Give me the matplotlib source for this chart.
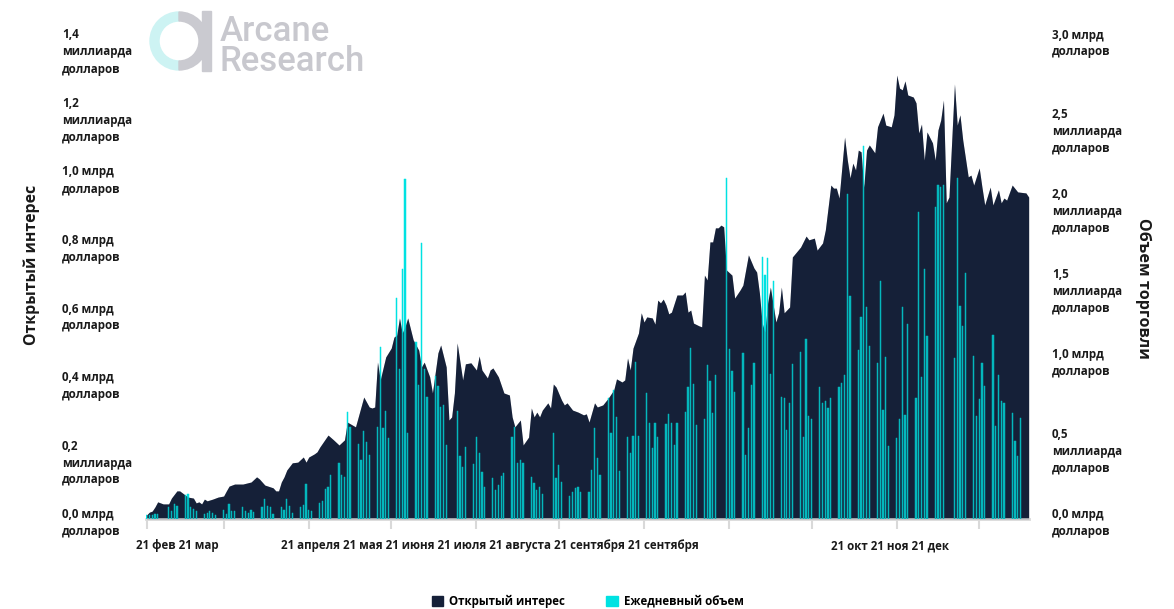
import matplotlib.pyplot as plt
import matplotlib.patches as mpatches
import matplotlib.transforms as mtransforms
import pandas as pd

plt.rcParams['font.family'] = ['Open Sans', 'DejaVu Sans']

# open interest, billions USD (2021)
oi_dates = [
    "02-01", "02-02", "02-03", "02-04", "02-05", "02-07", "02-09", "02-10", "02-12", "02-13",
    "02-14", "02-16", "02-18", "02-19", "02-20", "02-21", "02-22", "02-23", "02-25", "02-27",
    "03-01", "03-02", "03-03", "03-05", "03-08", "03-11", "03-13", "03-14", "03-16", "03-19",
    "03-20", "03-21", "03-22", "03-23", "03-24", "03-26", "03-28", "03-30", "03-31",
    "04-01", "04-03", "04-04", "04-05", "04-08", "04-10", "04-12", "04-14", "04-15", "04-18",
    "04-19", "04-21", "04-23", "04-24", "04-25", "04-26", "04-27", "04-29",
    "05-01", "05-02", "05-03", "05-04", "05-05", "05-06", "05-07", "05-09", "05-11", "05-12",
    "05-13", "05-15", "05-16", "05-18", "05-19", "05-21", "05-22", "05-23", "05-24", "05-25",
    "05-27", "05-28", "05-30",
    "06-01", "06-02", "06-03", "06-05", "06-06", "06-07", "06-09", "06-11", "06-13", "06-14",
    "06-15", "06-17", "06-18", "06-20", "06-21", "06-22", "06-23", "06-24", "06-25", "06-27",
    "06-28", "06-29", "06-30",
    "07-02", "07-03", "07-04", "07-06", "07-08", "07-10", "07-11", "07-12", "07-14", "07-15",
    "07-17", "07-19", "07-21", "07-22", "07-24", "07-25", "07-26", "07-27", "07-28", "07-30",
    "07-31",
    "08-01", "08-02", "08-04", "08-05", "08-06", "08-07", "08-08", "08-09", "08-10", "08-11",
    "08-13", "08-15", "08-16", "08-17", "08-18", "08-19", "08-21", "08-22", "08-23", "08-24",
    "08-25", "08-26", "08-27", "08-28", "08-29", "08-30", "08-31",
    "09-02", "09-03", "09-05", "09-06", "09-08", "09-10", "09-11", "09-12", "09-13", "09-14",
    "09-15", "09-16", "09-18", "09-19", "09-20", "09-21", "09-23", "09-24", "09-27", "09-29",
    "09-30",
    "10-02", "10-03", "10-05", "10-06", "10-08", "10-09", "10-10", "10-11", "10-13", "10-14",
    "10-15", "10-16", "10-17", "10-18", "10-19", "10-20", "10-21", "10-22", "10-24", "10-25",
    "10-27", "10-28", "10-30", "10-31",
    "11-01", "11-02", "11-03", "11-04", "11-05", "11-07", "11-08", "11-09", "11-10", "11-11",
    "11-12", "11-14", "11-15", "11-16", "11-17", "11-18", "11-19", "11-20", "11-22", "11-23",
    "11-24", "11-25", "11-27", "11-28", "11-29",
    "12-01", "12-02", "12-03", "12-05", "12-06", "12-08", "12-09", "12-10", "12-11", "12-13",
    "12-15", "12-18", "12-19",
]
oi_values = [
    0.012, 0.020, 0.023, 0.035, 0.050, 0.044, 0.044, 0.061, 0.082, 0.082,
    0.076, 0.064, 0.061, 0.047, 0.050, 0.044, 0.058, 0.053, 0.058, 0.064,
    0.067, 0.082, 0.096, 0.102, 0.102, 0.108, 0.123, 0.117, 0.099, 0.091,
    0.082, 0.082, 0.108, 0.123, 0.143, 0.164, 0.166, 0.181, 0.166,
    0.181, 0.190, 0.196, 0.210, 0.245, 0.231, 0.216, 0.231, 0.283, 0.269,
    0.298, 0.356, 0.327, 0.324, 0.327, 0.458, 0.406, 0.473,
    0.499, 0.531, 0.537, 0.587, 0.543, 0.561, 0.587, 0.523, 0.493, 0.444,
    0.458, 0.415, 0.368, 0.485, 0.508, 0.444, 0.289, 0.298, 0.368, 0.514,
    0.406, 0.453, 0.456,
    0.435, 0.476, 0.435, 0.412, 0.435, 0.441, 0.415, 0.368, 0.362, 0.298,
    0.269, 0.289, 0.216, 0.239, 0.324, 0.298, 0.312, 0.298, 0.318, 0.339,
    0.324, 0.394, 0.385,
    0.347, 0.333, 0.339, 0.318, 0.312, 0.304, 0.307, 0.283, 0.339, 0.327,
    0.333, 0.353, 0.377, 0.409, 0.400, 0.406, 0.470, 0.435, 0.499, 0.543,
    0.602,
    0.575, 0.590, 0.587, 0.569, 0.639, 0.631, 0.642, 0.625, 0.599, 0.604,
    0.654, 0.654, 0.663, 0.604, 0.610, 0.572, 0.564, 0.561, 0.712, 0.698,
    0.809, 0.809, 0.850, 0.850, 0.858, 0.853, 0.727,
    0.712, 0.645, 0.669, 0.683, 0.771, 0.733, 0.721, 0.660, 0.572, 0.546,
    0.631, 0.677, 0.575, 0.602, 0.677, 0.602, 0.619, 0.765, 0.794, 0.826,
    0.815,
    0.820, 0.785, 0.806, 0.844, 0.975, 0.966, 0.966, 0.937, 1.115, 1.048,
    0.996, 1.039, 1.019, 1.077, 1.072, 0.969, 1.077, 1.092, 1.069, 1.145,
    1.185, 1.150, 1.145, 1.180,
    1.296, 1.258, 1.253, 1.279, 1.238, 1.232, 1.215, 1.127, 1.153, 1.048,
    1.130, 1.098, 1.048, 1.136, 1.165, 1.223, 0.923, 0.940, 1.270, 1.150,
    1.180, 1.107, 0.999, 1.004, 0.975,
    1.025, 0.969, 0.917, 0.969, 0.917, 0.961, 0.923, 0.937, 0.931, 0.975,
    0.955, 0.952, 0.940,
]

# daily volume, billions USD; one row per week (Mon..Fri), weeks starting 2021-02-01
volume_weeks = [
    [0.025, 0.025, 0.025, 0.031, 0.031], [0.0, 0.075, 0.050, 0.094, 0.081],
    [0.150, 0.156, 0.075, 0.063, 0.050], [0.031, 0.038, 0.050, 0.038, 0.025],
    [0.056, 0.031, 0.094, 0.050, 0.050], [0.075, 0.050, 0.038, 0.056, 0.044],
    [0.075, 0.125, 0.081, 0.075, 0.031], [0.075, 0.056, 0.125, 0.081, 0.038],
    [0.075, 0.088, 0.219, 0.056, 0.050], [0.100, 0.113, 0.188, 0.200, 0.275],
    [0.350, 0.275, 0.263, 0.670, 0.576], [0.469, 0.369, 0.551, 0.482, 0.400],
    [0.576, 1.076, 0.569, 0.676, 0.507], [1.383, 0.939, 1.564, 2.127, 0.538],
    [1.107, 0.838, 1.727, 0.939, 0.763], [0.895, 0.832, 0.701, 0.713, 0.463],
    [0.0, 0.676, 0.394, 0.325, 0.451], [0.344, 0.513, 0.413, 0.294, 0.200],
    [0.257, 0.181, 0.213, 0.269, 0.288], [0.513, 0.576, 0.350, 0.369, 0.350],
    [0.263, 0.225, 0.181, 0.200, 0.156], [0.0, 0.538, 0.257, 0.338, 0.232],
    [0.144, 0.169, 0.194, 0.200, 0.169], [0.169, 0.307, 0.569, 0.382, 0.275],
    [0.757, 0.538, 0.807, 0.638, 0.300], [0.513, 0.413, 0.519, 0.982, 0.519],
    [0.788, 0.601, 0.444, 0.601, 0.513], [0.594, 0.657, 0.601, 0.463, 0.601],
    [0.670, 0.826, 1.070, 0.845, 0.588], [0.626, 0.964, 0.863, 0.663, 0.901],
    [0.0, 2.134, 1.064, 0.926, 0.795], [1.039, 0.400, 0.569, 0.838, 0.976],
    [1.639, 1.527, 1.633, 0.907, 1.489], [0.763, 0.757, 0.557, 0.726, 0.970],
    [1.045, 0.513, 1.126, 0.644, 0.626], [0.826, 0.726, 0.738, 0.695, 0.757],
    [0.826, 0.851, 0.901, 2.034, 1.395], [1.057, 1.264, 2.334, 1.326, 1.082],
    [0.976, 1.489, 0.682, 1.014, 0.457], [0.507, 0.626, 1.326, 0.651, 1.220],
    [0.757, 1.921, 0.888, 1.564, 1.145], [1.952, 2.090, 2.077, 2.090, 0.0],
    [1.007, 2.134, 1.333, 1.208, 1.539], [1.020, 0.644, 0.751, 0.976, 0.832],
    [1.151, 0.582, 0.901, 0.738, 0.726], [0.663, 0.488, 0.394, 0.632, 0.0],
]

left_ticks = [0.0, 0.2, 0.4, 0.6, 0.8, 1.0, 1.2, 1.4]
left_labels = ["0,0 млрд\nдолларов", "0,2\nмиллиарда\nдолларов", "0,4 млрд\nдолларов",
               "0,6 млрд\nдолларов", "0,8 млрд\nдолларов", "1,0 млрд\nдолларов",
               "1,2\nмиллиарда\nдолларов", "1,4\nмиллиарда\nдолларов"]
right_ticks = [0.0, 0.5, 1.0, 1.5, 2.0, 2.5, 3.0]
right_labels = ["0,0 млрд\nдолларов", "0,5\nмиллиарда\nдолларов", "1,0 млрд\nдолларов",
                "1,5\nмиллиарда\nдолларов", "2,0\nмиллиарда\nдолларов",
                "2,5\nмиллиарда\nдолларов", "3,0 млрд\nдолларов"]
x_label_groups = ["21 фев 21 мар",
                  "21 апреля 21 мая 21 июня 21 июля 21 августа 21 сентября 21 сентября",
                  "21 окт 21 ноя 21 дек"]

NAVY = '#152038'
CYAN = '#00e2e2'
TEXT = '#1a1a1a'

oi_x = pd.to_datetime(["2021-" + d for d in oi_dates])
week_starts = pd.date_range("2021-02-01", periods=len(volume_weeks), freq="7D")
vol_x, vol_y = [], []
for ws, row in zip(week_starts, volume_weeks):
    for i, v in enumerate(row):
        if v > 0:
            vol_x.append(ws + pd.Timedelta(days=i))
            vol_y.append(v)

fig = plt.figure(figsize=(11.74, 6.09), dpi=100)
ax = fig.add_axes([146 / 1174, 1 - 519 / 609, 883 / 1174, 479.5 / 609])
ax2 = ax.twinx()
ax3 = ax.twinx()  # translucent copy of the area over the bars

ax.fill_between(oi_x, oi_values, color=NAVY, lw=0)
ax2.bar(vol_x, vol_y, width=0.45, color=CYAN, edgecolor=CYAN, lw=0.35)
ax3.fill_between(oi_x, oi_values, color=NAVY, lw=0, alpha=0.22)

ax.set_xlim(pd.Timestamp("2021-01-31 18:00"), pd.Timestamp("2021-12-19 03:00"))
ax.set_ylim(0, 1.4)
ax3.set_ylim(0, 1.4)
ax2.set_ylim(0, 3.0)

for a in (ax, ax2, ax3):
    for s in a.spines.values():
        s.set_visible(False)
    a.set_yticks([])
ax.spines['bottom'].set_visible(True)
ax.spines['bottom'].set_color('#d9d9d9')
ax.spines['bottom'].set_linewidth(2)
ax.set_xticks(pd.date_range("2021-02-01", "2021-12-01", freq="MS"))
ax.tick_params(axis='x', length=7, width=1.5, color='#d9d9d9', labelbottom=False)

up = mtransforms.ScaledTranslation(0, 0.11, fig.dpi_scale_trans)
for t, lab in zip(left_ticks, left_labels):
    ax.text(-0.095, t, lab, transform=ax.get_yaxis_transform() + up, ha='left', va='top',
            fontsize=8.4, fontweight='bold', color=TEXT, linespacing=1.4)
for t, lab in zip(right_ticks, right_labels):
    ax2.text(1.026, t, lab, transform=ax2.get_yaxis_transform() + up, ha='left', va='top',
             fontsize=8.4, fontweight='bold', color=TEXT, linespacing=1.4)

for xf, lab in zip([0.036, 0.390, 0.843], x_label_groups):
    ax.text(xf, -0.056, lab, transform=ax.transAxes, ha='center', va='center',
            fontsize=8.3, fontweight='bold', color=TEXT)

fig.text(32 / 1174, 1 - 265 / 609, "Открытый интерес", rotation=90, ha='center',
         va='center', fontsize=11.4, fontweight='bold', color=TEXT)
fig.text(1143 / 1174, 1 - 288 / 609, "Объем торговли", rotation=270, ha='center',
         va='center', fontsize=11.6, fontweight='bold', color=TEXT)

handles = [mpatches.Patch(color=NAVY, label="Открытый интерес"),
           mpatches.Patch(color=CYAN, label="Ежедневный объем")]
fig.legend(handles=handles, loc='center', bbox_to_anchor=(0.5005, 0.013), ncol=2,
           frameon=False, handlelength=1.0, handleheight=1.0, handletextpad=0.5,
           columnspacing=3.6, prop={'size': 8.3, 'weight': 'bold'})

# logo
inch = fig.dpi_scale_trans
fig.add_artist(mpatches.Wedge((1.79, 5.68), 0.29, 90, 270, width=0.09,
                              color='#cdf3f3', transform=inch))
fig.add_artist(mpatches.Wedge((1.79, 5.68), 0.29, 270, 90, width=0.09,
                              color='#cacad0', transform=inch))
fig.add_artist(mpatches.Rectangle((2.02, 5.38), 0.085, 0.6, color='#cacad0', transform=inch))
fig.text(220 / 1174, 1 - 41 / 609, "Arcane", fontsize=25, color='#c8c8ce',
         family=['Roboto', 'DejaVu Sans'], fontweight='medium', va='baseline', ha='left')
fig.text(220 / 1174, 1 - 71 / 609, "Research", fontsize=25, color='#c8c8ce',
         family=['Roboto', 'DejaVu Sans'], fontweight='medium', va='baseline', ha='left')

fig.savefig("out.png", dpi=100)
